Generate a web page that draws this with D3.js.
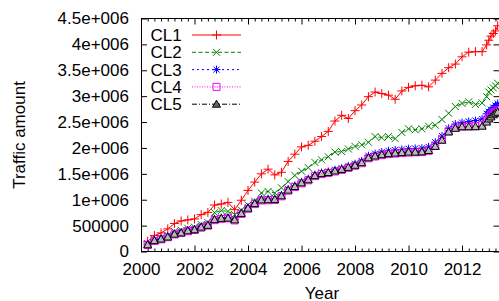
<!DOCTYPE html>
<html>
<head>
<meta charset="utf-8">
<script src="https://cdn.jsdelivr.net/npm/d3@7"></script>
<style>
  html, body { margin: 0; padding: 0; background: #fff; }
  svg { display: block; }
  text { font-family: "Liberation Sans", Arial, sans-serif; fill: #000; }
</style>
</head>
<body>
<svg id="chart" width="499" height="301"></svg>
<script>
// x positions (year), quarterly then monthly at the tail
const years = [2000.25, 2000.5, 2000.75, 2001, 2001.25, 2001.5, 2001.75, 2002, 2002.25, 2002.5,
  2002.75, 2003, 2003.25, 2003.5, 2003.75, 2004, 2004.25, 2004.5, 2004.75, 2005,
  2005.25, 2005.5, 2005.75, 2006, 2006.25, 2006.5, 2006.75, 2007, 2007.25, 2007.5,
  2007.75, 2008, 2008.25, 2008.5, 2008.75, 2009, 2009.25, 2009.5, 2009.75, 2010,
  2010.25, 2010.5, 2010.75, 2011, 2011.25, 2011.5, 2011.75, 2012, 2012.25, 2012.5,
  2012.75, 2012.92, 2013.0, 2013.08, 2013.17, 2013.25, 2013.33];

// traffic amounts, in thousands
const cl1 = [198, 308, 359, 436, 540, 590, 610, 628, 712, 756,
  898, 917, 948, 808, 990, 1180, 1340, 1500, 1590, 1480,
  1530, 1740, 1880, 2020, 2050, 2130, 2220, 2320, 2520, 2630,
  2570, 2720, 2830, 2990, 3080, 3050, 3020, 2940, 3100, 3170,
  3200, 3210, 3180, 3310, 3440, 3550, 3620, 3760, 3850, 3860,
  3860, 3990, 4080, 4160, 4210, 4260, 4360];
const cl2 = [150, 230, 265, 310, 390, 410, 450, 470, 520, 560,
  750, 790, 775, 712, 800, 900, 970, 1130, 1160, 1130,
  1230, 1350, 1470, 1550, 1620, 1720, 1770, 1830, 1920, 1930,
  1980, 2030, 2060, 2110, 2220, 2200, 2220, 2180, 2300, 2370,
  2350, 2370, 2420, 2440, 2550, 2670, 2800, 2860, 2890, 2840,
  2870, 2990, 3080, 3120, 3160, 3200, 3250];
const cl3 = [140, 225, 255, 295, 350, 375, 415, 435, 485, 520,
  630, 655, 660, 625, 750, 855, 945, 1015, 1020, 1025,
  1095, 1205, 1275, 1345, 1405, 1485, 1525, 1545, 1580, 1610,
  1650, 1695, 1750, 1850, 1890, 1920, 1945, 1960, 1970, 1985,
  1990, 1995, 2020, 2110, 2230, 2380, 2460, 2490, 2510, 2530,
  2560, 2660, 2700, 2740, 2780, 2820, 2860];
const cl4 = [125, 205, 235, 275, 330, 355, 390, 415, 460, 500,
  605, 630, 640, 600, 725, 825, 915, 985, 990, 995,
  1065, 1175, 1245, 1315, 1375, 1455, 1495, 1515, 1545, 1575,
  1615, 1655, 1705, 1800, 1835, 1860, 1880, 1890, 1900, 1910,
  1915, 1920, 1945, 2040, 2160, 2320, 2390, 2410, 2415, 2420,
  2440, 2530, 2580, 2630, 2670, 2700, 2730];
const cl5 = [130, 210, 240, 280, 335, 360, 400, 420, 470, 505,
  615, 640, 645, 610, 735, 835, 925, 995, 1000, 1005,
  1075, 1185, 1255, 1325, 1385, 1465, 1505, 1525, 1555, 1585,
  1625, 1665, 1715, 1810, 1845, 1870, 1890, 1900, 1910, 1920,
  1920, 1925, 1950, 2030, 2150, 2310, 2380, 2410, 2410, 2410,
  2420, 2500, 2560, 2600, 2640, 2670, 2690];

const seriesNames = ["CL1", "CL2", "CL3", "CL4", "CL5"];
const yTicks = [0, 500, 1000, 1500, 2000, 2500, 3000, 3500, 4000, 4500];
const yTickLabels = ["0", "500000", "1e+006", "1.5e+006", "2e+006", "2.5e+006",
  "3e+006", "3.5e+006", "4e+006", "4.5e+006"];
const xMajor = [2000, 2002, 2004, 2006, 2008, 2010, 2012];

const svg = d3.select("#chart");
const L = 141, R = 499.5, T = 18.5, B = 251.5;

const x = d3.scaleLinear().domain([2000, 2013.4]).range([L, R]);
const y = d3.scaleLinear().domain([0, 4500]).range([B, T]);

const xMinor = d3.range(2000, 2013.4, 0.25).filter(v => v % 2 !== 0);

const styles = [
  {color: "#ff0000", dash: null, mark: "plus"},
  {color: "#008000", dash: "4,2.5", mark: "cross"},
  {color: "#0000ff", dash: "2,3", mark: "star"},
  {color: "#ff00ff", dash: "1,1.5", mark: "square"},
  {color: "#000000", dash: "5,2,1,2", mark: "tri"},
];

const marks = {
  plus: "M-4.5,0H4.5M0,-4.5V4.5",
  cross: "M-3.5,-3.5L3.5,3.5M-3.5,3.5L3.5,-3.5",
  star: "M-4,0H4M0,-4V4M-3,-3L3,3M-3,3L3,-3",
  square: "M-3.5,-3.5H3.5V3.5H-3.5Z",
  tri: "M0,-4L4,3H-4Z",
};

function drawMark(g, s, px, py, triFill) {
  const p = g.append("path")
    .attr("transform", `translate(${px},${py})`)
    .attr("d", marks[s.mark])
    .attr("stroke", s.color)
    .attr("stroke-width", 1);
  if (s.mark === "tri") p.attr("fill", triFill).attr("stroke", "#000");
  else p.attr("fill", "none");
}

// axes: gnuplot style, ticks inward on all four sides
const ax = svg.append("g").attr("font-size", 17);

ax.append("g").attr("transform", `translate(0,${B})`)
  .call(d3.axisBottom(x).tickValues(xMajor).tickSize(-6).tickPadding(11).tickFormat(d3.format("d")));
ax.append("g").attr("transform", `translate(0,${B})`)
  .call(d3.axisBottom(x).tickValues(xMinor).tickSize(-3).tickFormat(""));
ax.append("g").attr("transform", `translate(0,${T})`)
  .call(d3.axisTop(x).tickValues(xMajor).tickSize(-6).tickFormat(""));
ax.append("g").attr("transform", `translate(0,${T})`)
  .call(d3.axisTop(x).tickValues(xMinor).tickSize(-3).tickFormat(""));
ax.append("g").attr("transform", `translate(${L},0)`)
  .call(d3.axisLeft(y).tickValues(yTicks).tickSize(-6).tickPadding(12)
    .tickFormat((d, i) => yTickLabels[i]));
ax.append("g").attr("transform", `translate(${R},0)`)
  .call(d3.axisRight(y).tickValues(yTicks).tickSize(-6).tickFormat(""));

ax.selectAll(".domain").remove();
ax.selectAll("text").attr("font-family", null).attr("font-size", 17);
ax.selectAll(".tick line").attr("stroke", "#000");

svg.append("rect")
  .attr("x", L + 0.5).attr("y", T).attr("width", R - L - 0.5).attr("height", B - T)
  .attr("fill", "none").attr("stroke", "#000");

// series
const allValues = [cl1, cl2, cl3, cl4, cl5];
const line = d3.line().x(d => x(d[0])).y(d => y(d[1]));
const plot = svg.append("g");

allValues.forEach((vals, k) => {
  const s = styles[k];
  const pts = years.map((yr, i) => [yr, vals[i]]);
  const g = plot.append("g");
  g.append("path")
    .attr("d", line(pts))
    .attr("fill", "none")
    .attr("stroke", s.color)
    .attr("stroke-width", 1)
    .attr("stroke-dasharray", s.dash);
  pts.forEach(p => drawMark(g, s, x(p[0]), y(p[1]), "#bbb"));
});

// legend
const lg = svg.append("g");
seriesNames.forEach((name, k) => {
  const s = styles[k];
  const ly = 35 + k * 17.3;
  lg.append("text").attr("x", 150.5).attr("y", ly).attr("dy", "0.36em")
    .attr("font-size", 17).text(name);
  lg.append("line").attr("x1", 192).attr("x2", 241).attr("y1", ly).attr("y2", ly)
    .attr("stroke", s.color).attr("stroke-width", 1).attr("stroke-dasharray", s.dash);
  drawMark(lg, s, 216.5, ly, "#666");
});

// axis titles
svg.append("text")
  .attr("transform", "translate(25,135) rotate(-90)")
  .attr("text-anchor", "middle").attr("font-size", 17)
  .text("Traffic amount");
svg.append("text")
  .attr("x", 322).attr("y", 298.5)
  .attr("text-anchor", "middle").attr("font-size", 17)
  .text("Year");
</script>
</body>
</html>
